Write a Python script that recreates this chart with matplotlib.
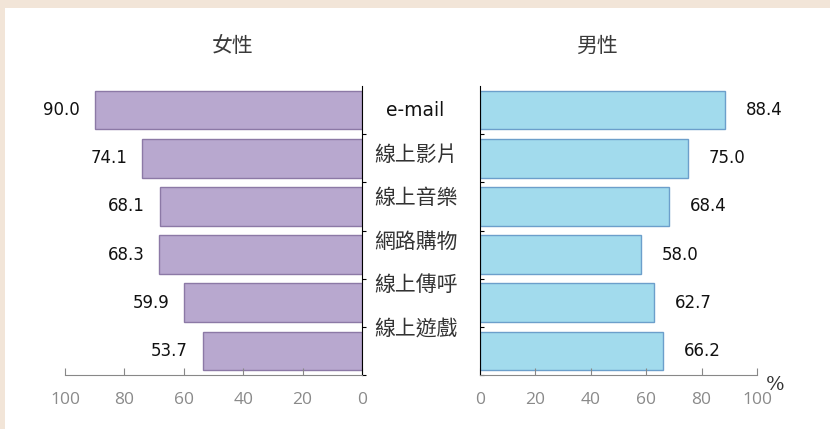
import matplotlib
matplotlib.use("Agg")
import matplotlib.pyplot as plt
from matplotlib.patches import Rectangle

categories = ["e-mail", "線上影片", "線上音樂", "網路購物", "線上傳呼", "線上遊戲"]
female = [90.0, 74.1, 68.1, 68.3, 59.9, 53.7]
male = [88.4, 75.0, 68.4, 58.0, 62.7, 66.2]
ticks = [0, 20, 40, 60, 80, 100]
title_f = "女性"
title_m = "男性"

plt.rcParams['font.family'] = ['Noto Sans CJK TC', 'DejaVu Sans']

W, H = 830, 429
fig = plt.figure(figsize=(W / 100, H / 100), dpi=100)
fig.patch.set_facecolor("#F2E5D8")
fig.add_artist(Rectangle((5 / W, 0), 1, 1 - 8 / H, transform=fig.transFigure,
                         facecolor="white", edgecolor="none", zorder=0))

bottom = 1 - 375 / H
height = (375 - 86) / H
axL = fig.add_axes([65 / W, bottom, 297 / W, height])
axR = fig.add_axes([480 / W, bottom, 277 / W, height])

ypos = list(range(len(categories)))
num_font = dict(family=['DejaVu Sans'], fontsize=12, color="#111111")
tick_font = dict(family=['Open Sans', 'DejaVu Sans'], fontsize=12.5, color="#8a8a8a")

axL.barh(ypos, female, height=0.8, color="#B8A8CF", edgecolor="#8C79A6", linewidth=1.0)
axR.barh(ypos, male, height=0.8, color="#A2DBED", edgecolor="#6C9FCB", linewidth=1.0)

for ax in (axL, axR):
    ax.set_ylim(len(categories) - 0.5, -0.5)
    ax.set_xlim(0, 100)
    ax.set_xticks(ticks)
    ax.set_xticklabels([str(t) for t in ticks], **tick_font)
    ax.tick_params(axis='x', direction='in', length=5, color="#888888", pad=12)
    ax.set_yticks([y - 0.5 for y in ypos[1:]] + [len(categories) - 0.5])
    ax.set_yticklabels([])
    ax.spines['top'].set_visible(False)
    ax.spines['bottom'].set_color("#888888")
    ax.set_facecolor("none")

axL.invert_xaxis()
axL.spines['left'].set_visible(False)
axL.spines['right'].set_color("black")
axL.yaxis.tick_right()
axL.tick_params(axis='y', direction='out', length=3, color="black")
axR.spines['right'].set_visible(False)
axR.spines['left'].set_color("black")
axR.tick_params(axis='y', direction='in', length=3, color="black")

for y, v in zip(ypos, female):
    axL.text(v + 5, y, f"{v:.1f}", ha='right', va='center', **num_font)
for y, v in zip(ypos, male):
    axR.text(v + 7.5, y, f"{v:.1f}", ha='left', va='center', **num_font)

title_kw = dict(ha='center', va='center', fontsize=15, color="#3a3a3a")
fig.text(233 / W, 1 - 46 / H, title_f, **title_kw)
fig.text(597 / W, 1 - 46 / H, title_m, **title_kw)

label_y0 = 111
label_step = 43.6
for i, c in enumerate(categories):
    if i == 0:
        fig.text(415 / W, 1 - label_y0 / H, c, ha='center', va='center',
                 fontsize=13.5, color="#111111", family=['DejaVu Sans'])
    else:
        fig.text(416 / W, 1 - (label_y0 + i * label_step) / H, c, ha='center', va='center',
                 fontsize=15, color="#333333",
                 family=['Noto Sans CJK TC', 'DejaVu Sans'])

axR.text(1.065, -0.035, "%", transform=axR.transAxes, ha='center', va='center',
         fontsize=14, color="#333333", family=['DejaVu Serif'])

fig.savefig("out.png", dpi=100, facecolor=fig.get_facecolor())
